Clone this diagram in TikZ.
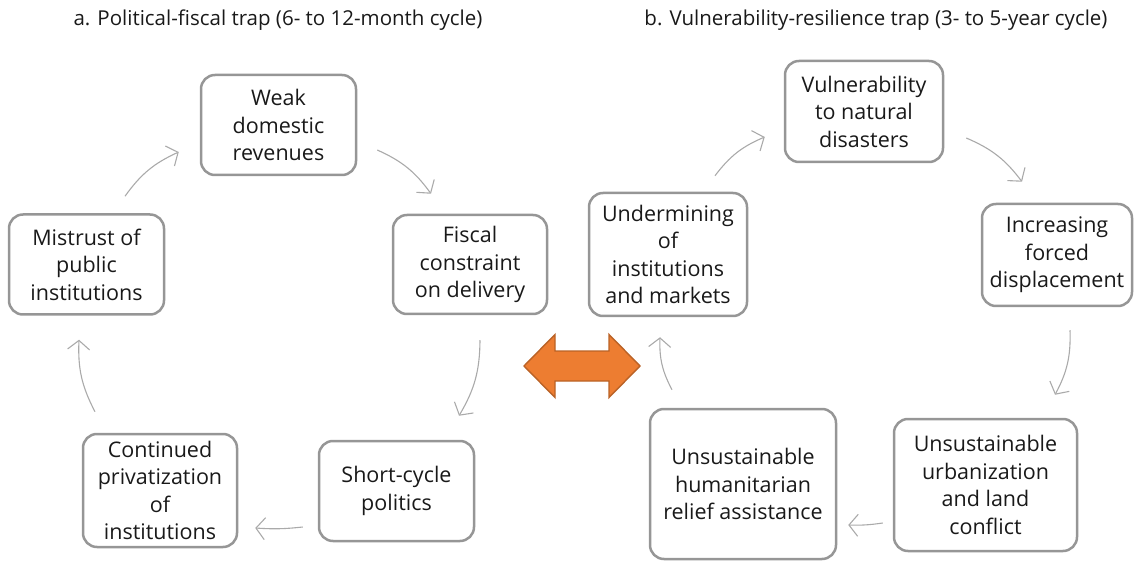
\documentclass[tikz,border=0pt]{standalone}
\usepackage{fontspec}
\setmainfont{Open Sans}
\usepackage{tikz}
\usetikzlibrary{arrows.meta}
\definecolor{boxgray}{RGB}{150,150,150}
\definecolor{arrgray}{RGB}{170,170,170}
\definecolor{linkorange}{RGB}{237,125,49}
\definecolor{linkedge}{RGB}{186,98,38}

\begin{document}
\begin{tikzpicture}[
		x=1pt,y=1pt,
		box/.style={draw=boxgray, line width=2.5pt, rounded corners=14pt, align=center,
			inner sep=3pt, minimum width=155pt, minimum height=100pt,
			font=\fontsize{21.5}{27.5}\selectfont, text=black!90},
		title/.style={font=\fontsize{20.5}{24}\selectfont, text=black!90},
		cyc/.style={->, draw=arrgray, line width=1.1pt},
		linkarrow/.style={draw=linkedge, fill=linkorange, line width=1.4pt, line join=miter},
		>={Straight Barb[length=9pt,width=22pt]}
		]
		\useasboundingbox (0,0) rectangle (1138,-561);
		
		% ====== TITLES ======
		\node[title] (tita) at (278,-20) {a. Political-fiscal trap (6- to 12-month cycle)};
		\node[title] (titb) at (876,-20) {b. Vulnerability-resilience trap (3- to 5-year cycle)};
		
		% ====== LEFT CYCLE ======
		\node[box] (weak) at (278.5,-125) {Weak\\domestic\\revenues};
		\node[box] (mistrust) at (86.5,-264.5) {Mistrust of\\public\\institutions};
		\node[box, minimum width=154pt, minimum height=99pt] (fiscal) at (470,-264.5)
		{Fiscal\\constraint\\on delivery};
		\node[box] (short) at (396.5,-491) {Short-cycle\\politics};
		\node[box, minimum width=154pt, minimum height=113pt] (privat) at (160,-490.5)
		{Continued\\privatization\\of\\institutions};
		
		% ====== RIGHT CYCLE ======
		\node[box, minimum width=158pt, minimum height=101pt] (vuln) at (864,-111.5)
		{Vulnerability\\to natural\\disasters};
		\node[box, minimum width=150pt, minimum height=102pt] (displ) at (1057,-255)
		{Increasing\\forced\\displacement};
		\node[box, minimum width=183pt, minimum height=132pt] (urban) at (985.5,-485)
		{Unsustainable\\urbanization\\and land\\conflict};
		\node[box, minimum width=186pt, minimum height=150pt] (relief) at (743,-484)
		{Unsustainable\\humanitarian\\relief assistance};
		\node[box, minimum width=158pt, minimum height=123pt] (underm) at (668,-254.5)
		{Undermining\\of\\institutions\\and markets};
		
		% ====== LINK (double arrow) ======
		\coordinate (link) at (582,-366);
		\draw[linkarrow, shift={(link)}] (-58,0) -- (-27,31.5) -- (-27,15) -- (27,15) -- (27,31.5)
		-- (58,0) -- (27,-31.5) -- (27,-15) -- (-27,-15) -- (-27,-31.5) -- cycle;
		
		% ====== ARROWS ======
		\draw[cyc] ([shift={(38.5,17)}]mistrust.north) to[bend left=15] ([shift={(-21,-27)}]weak.west);
		\draw[cyc] ([shift={(20,-25)}]weak.east) to[bend left=15] ([shift={(-39,20)}]fiscal.north);
		\draw[cyc] ([shift={(10,-25)}]fiscal.south) to[bend left=15] ([shift={(62.5,24)}]short.north);
		\draw[cyc] ([shift={(-15,-36)}]short.west) to[bend left=5] ([shift={(17,-37.5)}]privat.east);
		\draw[cyc] ([shift={(-65,21)}]privat.north) to[bend left=15] ([shift={(-7.5,-24)}]mistrust.south);
		
		\draw[cyc] ([shift={(47,16)}]underm.north) to[bend left=15] ([shift={(-19,-25.5)}]vuln.west);
		\draw[cyc] ([shift={(22,-26.5)}]vuln.east) to[bend left=15] ([shift={(-35,21)}]displ.north);
		\draw[cyc] ([shift={(13,-23)}]displ.south) to[bend left=15] ([shift={(69.5,23)}]urban.north);
		\draw[cyc] ([shift={(-10,-38)}]urban.west) to[bend left=5] ([shift={(11,-41)}]relief.east);
		\draw[cyc] ([shift={(-71,18)}]relief.north) to[bend left=15] ([shift={(-8,-20)}]underm.south);
		
\end{tikzpicture}
\end{document}
